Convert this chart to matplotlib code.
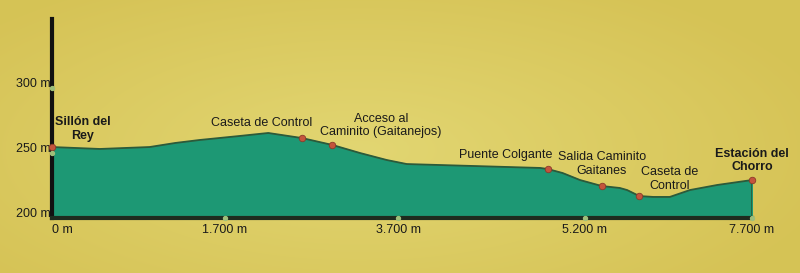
import numpy as np
import matplotlib
matplotlib.use("Agg")
import matplotlib.pyplot as plt
from matplotlib.transforms import ScaledTranslation

plt.rcParams['font.family'] = ['Liberation Sans', 'DejaVu Sans']

# perfil del recorrido (distancia en m, altitud en m)
dist = [0, 470, 960, 1210, 1450, 1870, 2200, 2590, 2940, 3260, 3570, 3770,
        4840, 4900, 5020, 5160, 5450, 5720, 5830, 5980, 6010, 6220, 6470,
        6770, 7180, 7700]
alt = [254.6, 253.1, 254.6, 257.7, 260.0, 263.1, 265.4, 261.5, 256.2, 250.0,
       244.6, 241.5, 238.5, 237.7, 234.6, 229.2, 224.6, 223.1, 221.5, 217.7,
       216.9, 216.2, 216.2, 221.5, 225.4, 229.2]

# puntos de interes
poi_names = ["Sillón del\nRey", "Caseta de Control", "Acceso al\nCaminito (Gaitanejos)",
             "Puente Colgante", "Salida Caminito\nGaitanes", "Caseta de\nControl",
             "Estación del\nChorro"]
poi_dist = [0, 2590, 2940, 4900, 5450, 6010, 7700]
poi_alt = [254.6, 261.5, 256.2, 237.7, 224.6, 216.9, 229.2]
poi_bold = [True, False, False, False, False, False, True]
# desplazamiento de la etiqueta (puntos)
poi_off = [(22, 13), (-29, 11), (35, 14), (-30, 10), (0, 16), (22, 12), (0, 14)]

# ejes (el dibujo original no esta a escala en x)
xticks_real = [0, 1700, 3700, 5200, 7700]
xticks_drawn = [0, 1903, 3806, 5863, 7700]
xtick_labels = ["0 m", "1.700 m", "3.700 m", "5.200 m", "7.700 m"]
yticks = [200, 250, 300]
ytick_labels = ["200 m", "250 m", "300 m"]


def fwd(x):
    return np.interp(x, xticks_real, xticks_drawn)


def inv(x):
    return np.interp(x, xticks_drawn, xticks_real)


fig = plt.figure(figsize=(8, 2.73), dpi=100)

# fondo amarillo con degradado
bg = fig.add_axes([0, 0, 1, 1], zorder=-5)
yy, xx = np.mgrid[0:1:273j, 0:1:800j]
r = np.sqrt(((xx - 0.45) / 0.6) ** 2 + ((yy - 0.55) / 0.7) ** 2)
c0 = np.array([0.886, 0.839, 0.447])
c1 = np.array([0.839, 0.765, 0.337])
t = np.clip(r, 0, 1)[..., None]
bg.imshow(c0 * (1 - t) + c1 * t, aspect='auto', extent=[0, 1, 0, 1])
bg.axis('off')

ax = fig.add_axes([0.065, 0.2015, 0.875, 0.7285])
ax.patch.set_alpha(0)
ax.set_xscale('function', functions=(fwd, inv))
ax.set_xlim(0, 7700)
ax.set_ylim(200, 353)

ax.fill_between(dist, alt, 200, color='#1d9874', zorder=2)
ax.plot(dist, alt, color='#2c5a3a', lw=1.3, zorder=3)
ax.plot([dist[-1], dist[-1]], [200, alt[-1]], color='#2c5a3a', lw=1.2, zorder=3)

ax.scatter(poi_dist, poi_alt, s=22, color='#c4543c', edgecolor='#8a3a2a',
           linewidth=0.6, zorder=5, clip_on=False)
for name, x, y, b, off in zip(poi_names, poi_dist, poi_alt, poi_bold, poi_off):
    ax.annotate(name, (x, y), xytext=off, textcoords='offset points',
                ha='center', va='center', fontsize=9, linespacing=1.2,
                fontweight='bold' if b else 'normal', color='#1a1a1a', zorder=6)

for s in ['top', 'right']:
    ax.spines[s].set_visible(False)
ax.spines['left'].set_linewidth(3)
ax.spines['left'].set_color('#111111')
ax.spines['bottom'].set_linewidth(3)
ax.spines['bottom'].set_color('#1e2b1e')
ax.spines['left'].set_zorder(4)
ax.spines['bottom'].set_zorder(4)

ax.set_xticks(xticks_real)
ax.set_xticklabels(xtick_labels)
ax.set_yticks(yticks)
ax.set_yticklabels(ytick_labels)
ax.tick_params(length=0, labelsize=9, colors='#1a1a1a')
ax.tick_params(axis='x', pad=4)
ax.tick_params(axis='y', pad=1)
ax.get_xticklabels()[0].set_horizontalalignment('left')
up = ScaledTranslation(0, 3 / 72, fig.dpi_scale_trans)
for lab in ax.get_yticklabels():
    lab.set_verticalalignment('center')
    lab.set_transform(lab.get_transform() + up)

# marcas de eje (puntos claros)
ax.scatter(xticks_real[1:], [200] * 4, s=8, color='#9fbf7a', zorder=6, clip_on=False)
ax.scatter([0, 0], yticks[1:], s=8, color='#9fbf7a', zorder=6, clip_on=False)

fig.savefig("out.png", dpi=100)
